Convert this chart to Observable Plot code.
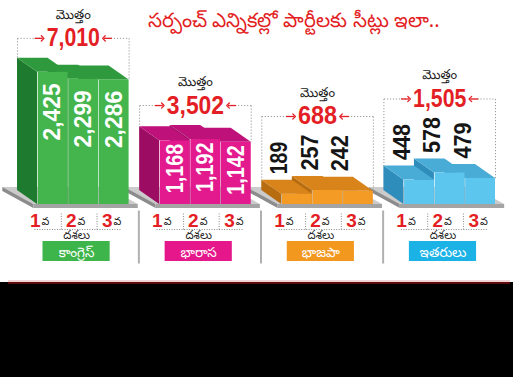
<!DOCTYPE html>
<html>
<head>
<meta charset="utf-8">
<script src="https://cdn.jsdelivr.net/npm/d3@7"></script>
<script src="https://cdn.jsdelivr.net/npm/@observablehq/plot@0.6"></script>
<style>
  body { margin: 0; background: #fff; }
  #wrap { position: relative; width: 513px; height: 377px; overflow: hidden; background: #fff; }
  #chart { position: absolute; left: 0; top: 0; }
  #title { position: absolute; left: 148px; top: 6px; font-family: "Noto Sans", sans-serif; font-size: 20px; color: #e31e24; white-space: nowrap; }
  #foot { position: absolute; left: 0; top: 282px; width: 513px; height: 95px; background: #000; }
  #foot .line { position: absolute; left: 8px; top: 0; width: 502px; height: 2px; background: #5c0a0c; }
  #pink { position: absolute; left: 8px; top: 280px; width: 502px; height: 2px; background: #f3d6d8; }
</style>
</head>
<body>
<div id="wrap">
  <div id="chart"></div>
  <div id="title"></div>
  <div id="pink"></div>
  <div id="foot"><div class="line"></div></div>
</div>
<script>
// ---- data ----
const titleText = "సర్పంచ్ ఎన్నికల్లో పార్టీలకు సీట్లు ఇలా..";
const parties = ["కాంగ్రెస్", "భారాస", "భాజపా", "ఇతరులు"];
const phases = ["1", "2", "3"];
const phaseSuffix = "వ";
const phaseWord = "దశలు";
const totalWord = "మొత్తం";
const congress = [2425, 2299, 2286];
const brs = [1168, 1192, 1142];
const bjp = [189, 257, 242];
const others = [448, 578, 479];
const series = [congress, brs, bjp, others];

// ---- styles ----
const palette = [
  {front: "#43b54c", top: "#2f9a3d", side: "#1e7a2e", box: "#3db54a", text: "#ffffff", inside: true, off: 11},
  {front: "#e3198e", top: "#bf117a", side: "#9c0c63", box: "#e5178b", text: "#ffffff", inside: true, off: 3},
  {front: "#f49b26", top: "#d9841a", side: "#b86c10", box: "#f3981f", text: "#151515", inside: false},
  {front: "#5cc6ee", top: "#48acd6", side: "#2f8dbb", box: "#1bb2e6", text: "#151515", inside: false}
];
const numFont = "'Liberation Sans','Arial',sans-serif";
const teluguFont = "'Noto Sans Telugu','Noto Sans',sans-serif";

document.getElementById("title").textContent = titleText;

// ---- layout ----
const W = 513, H = 282, ML = 37, MR = 18, BASE = 204, K = 0.0545;
const XMAX = 15;
const UX = (W - ML - MR) / XMAX;
const px = p => p / UX;      // pixels -> x units
const pv = p => p / K;       // pixels -> y units
const DX = px(20), DY = pv(14);
const yDomain = [-(H - BASE) / K, BASE / K];
const fmt = d3.format(",");

const bars = series.flatMap((vals, g) => vals.map((v, b) => ({
  g, b, v, x0: 4 * g + b, x1: 4 * g + b + 1, ...palette[g]
})));

// 3D faces: floor slabs, then bar side/top faces drawn right-to-left
const faces = [];
series.forEach((vals, g) => {
  const fx0 = 4 * g - 0.12, fx1 = 4 * g + 3.3, FD = px(31), FDY = pv(17), T = pv(4);
  [[fx0 - FD, FDY, FDY], [fx0, 0, FDY], [fx1 - FD, 0, FDY], [fx1, 0, 0]]
    .forEach(([x, y1, y2]) => faces.push({id: `ft${g}`, x, y1, y2, fill: "#cbcbcb"}));
  [[fx0 - FD, FDY - T, FDY], [fx0, -T, 0]]
    .forEach(([x, y1, y2]) => faces.push({id: `fl${g}`, x, y1, y2, fill: "#8c8c8c"}));
});
const floorFront = series.map((vals, g) => ({g, x1: 4 * g - 0.12, x2: 4 * g + 3.3}));
bars.slice().sort((a, b) => a.g - b.g || b.b - a.b).forEach(d => {
  const {x0, x1, v} = d;
  [[x0 - DX, DY, v + DY], [x0, 0, v]]
    .forEach(([x, y1, y2]) => faces.push({id: `s${d.g}${d.b}`, x, y1, y2, fill: d.side}));
  [[x0 - DX, v + DY, v + DY], [x0, v, v + DY], [x1 - DX, v, v + DY], [x1, v, v]]
    .forEach(([x, y1, y2]) => faces.push({id: `t${d.g}${d.b}`, x, y1, y2, fill: d.top}));
});

// approximate length of a condensed number string
const numLen = (s, digit) => [...s].reduce((a, c) => a + (c === "," ? digit * 0.4 : c === "1" ? digit * 0.7 : digit), 0);

// totals & brackets
const totals = series.map((vals, g) => {
  const label = fmt(d3.sum(vals));
  const hw = numLen(label, 13) / 2;
  const inside = palette[g].inside;
  const ty = d3.max(vals) + pv(inside ? 34 : 74);
  const xL = 4 * g - DX, xR = 4 * g + 3;
  const cx = (xL + xR) / 2;
  return {g, label, hw, ty, xL, xR, cx, v0: vals[0], v2: vals[2]};
});
const dotted = totals.flatMap(t => [
  {x1: t.xL, y1: t.ty, x2: t.cx - px(t.hw + 5), y2: t.ty},
  {x1: t.cx + px(t.hw + 5), y1: t.ty, x2: t.xR, y2: t.ty},
  {x1: t.xL, y1: t.ty, x2: t.xL, y2: t.v0 + DY},
  {x1: t.xR, y1: t.ty, x2: t.xR, y2: t.v2}
]);
const arrows = totals.flatMap(t => [
  {x1: t.cx - px(t.hw + 12), x2: t.cx - px(t.hw + 4), y: t.ty},
  {x1: t.cx + px(t.hw + 12), x2: t.cx + px(t.hw + 4), y: t.ty}
]);

// labels under bars
const phaseRows = series.flatMap((vals, g) => phases.map((p, b) => ({g, p, x: 4 * g + 0.05 + 1.18 * b})));
const groupRows = parties.map((name, g) => ({g, name, cx: 4 * g + 1.28, box: palette[g].box}));
const phaseSeps = series.flatMap((vals, g) => [4 * g + 0.78, 4 * g + 1.95].map(x => ({x})));
const groupSeps = [1, 2, 3].map(g => ({x: 4 * g - 0.68}));

const insideBars = bars.filter(d => d.inside);
const outsideBars = bars.filter(d => !d.inside);

const chart = Plot.plot({
  width: W,
  height: H,
  marginLeft: ML,
  marginRight: MR,
  marginTop: 0,
  marginBottom: 0,
  x: {domain: [0, XMAX], axis: null},
  y: {domain: yDomain, axis: null},
  color: {type: "identity"},
  marks: [
    // floor
    Plot.areaY(faces.filter(d => d.id.startsWith("f")), {x: "x", y1: "y1", y2: "y2", z: "id", fill: "fill", curve: "linear"}),
    Plot.rect(floorFront, {x1: "x1", x2: "x2", y1: -pv(4), y2: 0, fill: "#a4a4a4"}),
    // bar sides and tops
    Plot.areaY(faces.filter(d => !d.id.startsWith("f")), {x: "x", y1: "y1", y2: "y2", z: "id", fill: "fill", curve: "linear"}),
    // bar fronts
    Plot.rect(bars, {x1: "x0", x2: "x1", y1: 0, y2: "v", fill: "front", insetLeft: 0.7}),
    // values inside bars
    Plot.text(insideBars, {
      x: d => d.x0 + 0.5, y: d => d.v - pv(d.off), text: d => fmt(d.v),
      rotate: -90, textAnchor: "end", lineAnchor: "middle", fill: "text",
      fontSize: 24, fontWeight: "bold", fontFamily: numFont
    }),
    // values above bars
    Plot.text(outsideBars, {
      x: d => d.x0 + 0.5 - DX * 0.85, y: d => d.v + DY + pv(6), text: d => fmt(d.v),
      rotate: -90, textAnchor: "start", lineAnchor: "middle", fill: "text",
      fontSize: 23, fontWeight: "bold", fontFamily: numFont
    }),
    // total brackets
    Plot.link(dotted, {x1: "x1", y1: "y1", x2: "x2", y2: "y2", stroke: "#9a9a9a", strokeWidth: 1, strokeDasharray: "1.2,1.8"}),
    Plot.link(arrows, {x1: "x1", x2: "x2", y1: "y", y2: "y", stroke: "#e31e24", strokeWidth: 1.3, markerEnd: "arrow"}),
    Plot.text(totals, {x: "cx", y: "ty", text: "label", fill: "#e31e24", fontSize: 25, fontWeight: "bold", fontFamily: numFont, lineAnchor: "middle"}),
    Plot.text(totals, {x: "cx", y: d => d.ty + pv(24), text: () => totalWord, fill: "#1a1a1a", fontSize: 13, fontFamily: teluguFont, lineAnchor: "middle"}),
    // phase labels
    Plot.text(phaseRows, {x: "x", y: -pv(16), text: "p", textAnchor: "end", dx: 1.5, fill: "#e31e24", fontSize: 19, fontWeight: "bold", fontFamily: numFont, lineAnchor: "middle"}),
    Plot.text(phaseRows, {x: "x", y: -pv(17), text: () => phaseSuffix, textAnchor: "start", dx: 2.5, fill: "#222", fontSize: 11, fontFamily: teluguFont, lineAnchor: "middle"}),
    Plot.link(phaseSeps, {x1: "x", x2: "x", y1: -pv(9), y2: -pv(25), stroke: "#8a8a8a", strokeDasharray: "1,1.5"}),
    Plot.link(series.map((v, g) => ({g})), {x1: d => 4 * d.g - 0.1, x2: d => 4 * d.g + 2.75, y1: -pv(25), y2: -pv(25), stroke: "#8a8a8a", strokeDasharray: "1,1.5"}),
    Plot.rect(groupRows, {x1: d => d.cx - 1.1, x2: d => d.cx + 1.1, y1: -pv(57), y2: -pv(37), fill: "box"}),
    Plot.text(groupRows, {x: "cx", y: -pv(30.5), text: () => phaseWord, fill: "#222", fontSize: 11.5, fontFamily: teluguFont, lineAnchor: "middle"}),
    Plot.text(groupRows, {x: "cx", y: -pv(48.5), text: "name", fill: "#ffffff", fontSize: 13.5, fontFamily: teluguFont, lineAnchor: "middle"}),
    Plot.link(groupSeps, {x1: "x", x2: "x", y1: -pv(6), y2: -pv(59), stroke: "#b0b0b0", strokeWidth: 2})
  ]
});
document.getElementById("chart").appendChild(chart);

// condense the big bold numbers (value labels and totals) like the reference's narrow face
d3.select(chart).selectAll("g[aria-label='text']").each(function () {
  const fs = +this.getAttribute("font-size");
  if (fs < 22) return;
  const digit = fs === 23 ? 12 : 13;
  d3.select(this).selectAll("text").each(function () {
    const s = this.textContent;
    if (!/^[\d,]+$/.test(s)) return;
    this.setAttribute("textLength", numLen(s, digit));
    this.setAttribute("lengthAdjust", "spacingAndGlyphs");
  });
});
</script>
</body>
</html>
